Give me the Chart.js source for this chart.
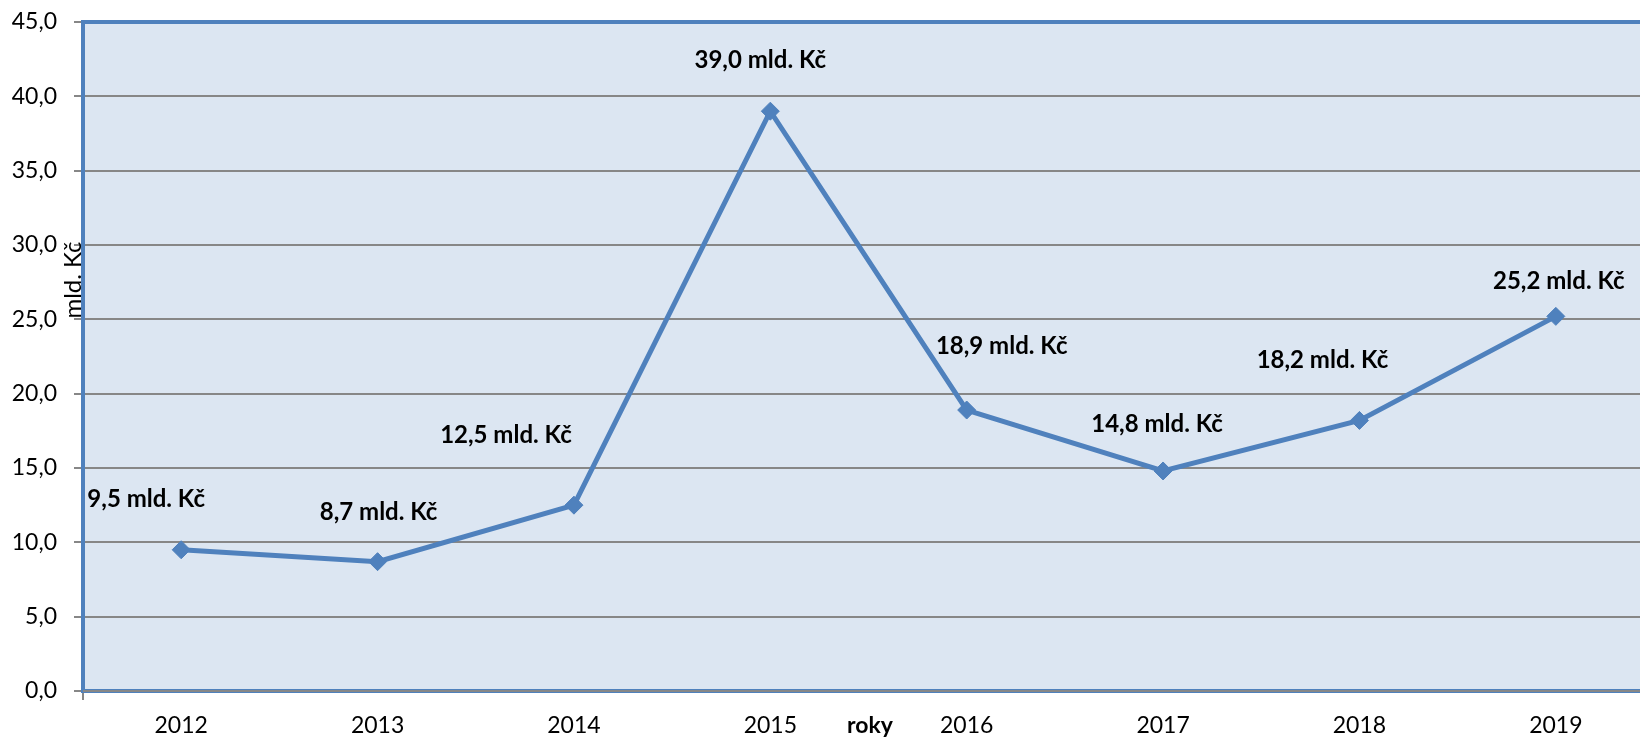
<!DOCTYPE html>
<html>
<head>
<meta charset="utf-8">
<script src="https://cdn.jsdelivr.net/npm/chart.js@4"></script>
<style>
  html, body { margin: 0; padding: 0; background: #fff; overflow: hidden; }
  #wrap { width: 1640px; height: 738px; overflow: hidden; }
</style>
</head>
<body>
<div id="wrap"><canvas id="myChart" width="1700" height="738"></canvas></div>
<script>
// chart data
const years = ['2012', '2013', '2014', '2015', '2016', '2017', '2018', '2019']
const values = [9.5, 8.7, 12.5, 39.0, 18.9, 14.8, 18.2, 25.2]
const yTicks = [0, 5, 10, 15, 20, 25, 30, 35, 40, 45]

// where each value label sits relative to its point (px)
const labelOffsets = [[-35, -51], [1, -49], [-68, -70], [-10, -51], [35, -64], [-6, -47], [-37, -60], [3, -35]]

const blue = '#4F81BD'
const gridGray = '#878787'
const plotBg = '#DCE6F2'

function fmt(v) {
	return v.toFixed(1).replace('.', ',')
}

// plot area fill, border and extra texts
const plotDecor = {
	id: 'plotDecor',
	beforeDraw(chart) {
		const a = chart.chartArea
		const ctx = chart.ctx
		ctx.save()
		ctx.fillStyle = plotBg
		ctx.fillRect(a.left, a.top, a.right - a.left, a.bottom - a.top)
		ctx.restore()
	},
	beforeDatasetsDraw(chart) {
		const a = chart.chartArea
		const ctx = chart.ctx
		ctx.save()
		ctx.strokeStyle = blue
		ctx.lineWidth = 4
		ctx.strokeRect(a.left, a.top, a.right - a.left, a.bottom - a.top)
		ctx.strokeStyle = gridGray
		ctx.lineWidth = 2
		ctx.beginPath()
		ctx.moveTo(a.left, a.bottom)
		ctx.lineTo(a.right, a.bottom)
		ctx.stroke()

		// axis titles
		ctx.fillStyle = '#000'
		ctx.font = 'bold 23px Lato'
		ctx.textAlign = 'center'
		ctx.textBaseline = 'middle'
		ctx.fillText('roky', 870, 726)

		ctx.translate(73, 280)
		ctx.rotate(-Math.PI / 2)
		ctx.font = '24px Lato'
		ctx.fillText('mld. Kč', 0, 0)
		ctx.restore()
	},
	afterDatasetsDraw(chart) {
		const ctx = chart.ctx
		const pts = chart.getDatasetMeta(0).data
		ctx.save()
		ctx.fillStyle = '#000'
		ctx.font = 'bold 24px Lato'
		ctx.textAlign = 'center'
		ctx.textBaseline = 'middle'
		pts.forEach(function (p, i) {
			const off = labelOffsets[i]
			ctx.fillText(fmt(values[i]) + ' mld. Kč', p.x + off[0], p.y + off[1])
		})
		ctx.restore()
	}
}

const ctx = document.getElementById('myChart').getContext('2d')

const myChart = new Chart(ctx, {
	type: 'line',
	data: {
		labels: years,
		datasets: [{
			data: values,
			borderColor: blue,
			borderWidth: 5,
			backgroundColor: blue,
			pointStyle: 'rectRot',
			pointRadius: 9,
			pointBorderWidth: 1,
			pointBorderColor: blue,
			pointBackgroundColor: blue,
			tension: 0,
			fill: false
		}]
	},
	options: {
		responsive: false,
		animation: false,
		devicePixelRatio: 1,
		layout: {
			autoPadding: false,
			padding: { top: 22, right: 46, left: 0, bottom: 0 }
		},
		plugins: {
			legend: { display: false },
			tooltip: { enabled: false }
		},
		scales: {
			x: {
				type: 'category',
				offset: true,
				afterFit(scale) { scale.height = 47 },
				grid: {
					offset: true,
					drawOnChartArea: false,
					drawTicks: true,
					tickLength: 9,
					// only the corner tick is visible
					color: function (c) { return c.index === 0 ? gridGray : 'rgba(0,0,0,0)' },
					lineWidth: 2
				},
				border: { display: false },
				ticks: {
					color: '#000',
					padding: 12,
					font: { family: 'Lato', size: 23 },
					maxRotation: 0,
					autoSkip: false
				}
			},
			y: {
				min: 0,
				max: 45,
				afterFit(scale) {
					scale.width = 83
					scale.paddingTop = 12
					scale.paddingBottom = 12
				},
				afterBuildTicks(scale) {
					scale.ticks = yTicks.map(function (v) { return { value: v } })
				},
				grid: {
					color: gridGray,
					lineWidth: 2,
					tickLength: 9
				},
				border: { display: false },
				ticks: {
					color: '#000',
					padding: 17,
					font: { family: 'Lato', size: 23 },
					callback: function (v) { return fmt(v) }
				}
			}
		}
	},
	plugins: [plotDecor]
})

myChart.update()
</script>
</body>
</html>
